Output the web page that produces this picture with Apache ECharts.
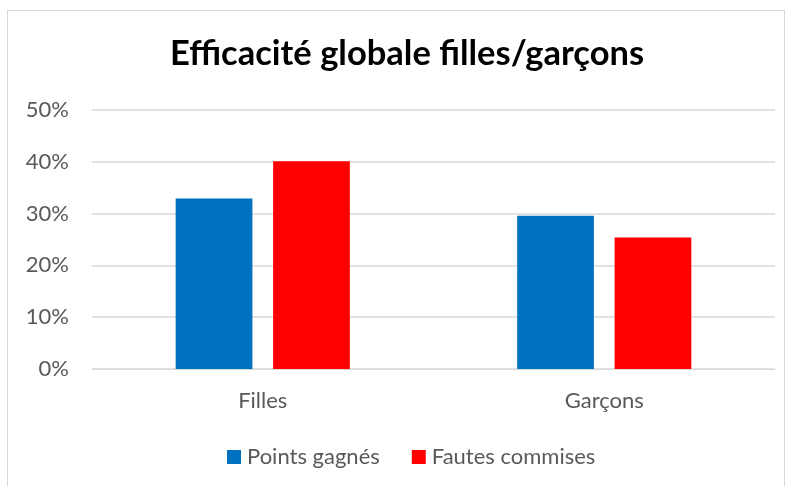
<!DOCTYPE html>
<html>
<head>
<meta charset="utf-8">
<script src="https://cdn.jsdelivr.net/npm/echarts@6/dist/echarts.min.js"></script>
<style>
  html, body { margin: 0; padding: 0; background: #fff; }
  #frame {
    position: absolute; left: 7px; top: 10px;
    width: 778px; height: 490px;
    border: 1px solid #d9d9d9; box-sizing: border-box;
  }
  #chart { position: absolute; left: 0; top: 0; width: 789px; height: 486px; }
</style>
</head>
<body>
<div id="frame"></div>
<div id="chart"></div>
<script>
  // données
  const categories = ['Filles', 'Garçons'];
  const pointsGagnes = [0.329, 0.296];
  const fautesCommises = [0.401, 0.254];
  const seriesNames = ['Points gagnés', 'Fautes commises'];

  const font = 'Lato, "Open Sans", "Liberation Sans", sans-serif';
  const myChart = echarts.init(document.getElementById('chart'));
  const option = {
    animation: false,
    title: {
      text: 'Efficacité globale filles/garçons',
      left: 165,
      top: 31,
      textStyle: { fontFamily: font, fontSize: 34.5, fontWeight: 'bold', color: '#000' }
    },
    legend: {
      top: 441,
      left: 222,
      itemWidth: 14,
      itemHeight: 14,
      itemGap: 32,
      icon: 'rect',
      textStyle: { fontFamily: font, fontSize: 22, color: '#595959', padding: [0, 0, 0, 1] },
      data: seriesNames
    },
    grid: { left: 92, right: 14, top: 110, bottom: 117 },
    xAxis: {
      type: 'category',
      data: categories,
      axisLine: { lineStyle: { color: '#d9d9d9', width: 1 } },
      axisTick: { show: false },
      axisLabel: { fontFamily: font, fontSize: 22, color: '#595959', margin: 21 }
    },
    yAxis: {
      type: 'value',
      min: 0,
      max: 0.5,
      interval: 0.1,
      axisLine: { show: false },
      axisTick: { show: false },
      splitLine: { lineStyle: { color: '#d9d9d9', width: 1.5 } },
      axisLabel: {
        fontFamily: font, fontSize: 22, color: '#595959', margin: 23,
        formatter: v => Math.round(v * 100) + '%'
      }
    },
    series: [
      {
        name: seriesNames[0],
        type: 'bar',
        data: pointsGagnes,
        barGap: '27%',
        barCategoryGap: '49%',
        itemStyle: { color: '#0070c0' }
      },
      {
        name: seriesNames[1],
        type: 'bar',
        data: fautesCommises,
        itemStyle: { color: '#ff0000' }
      }
    ]
  };
  myChart.setOption(option);
</script>
</body>
</html>
